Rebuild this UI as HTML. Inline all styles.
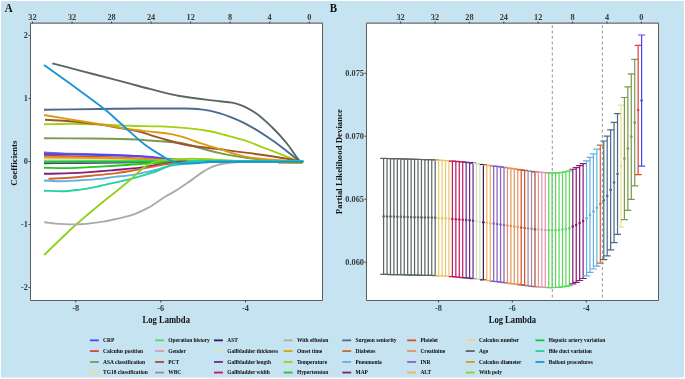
<!DOCTYPE html><html><head><meta charset="utf-8"><title>LASSO</title><style>
html,body{margin:0;padding:0;background:#fff;}
svg{display:block;will-change:transform;font-family:"Liberation Serif", serif;}
</style></head><body>
<svg width="685" height="379" viewBox="0 0 685 379">
<rect x="0" y="0" width="685" height="379" fill="#ffffff"/>
<rect x="1" y="1" width="683" height="376.5" fill="#c6e3f1"/>
<rect x="30.5" y="23.5" width="292.0" height="277.0" fill="#fff"/>
<path d="M44,163.2 C56,163.13 68,163.09 80,163 C93.33,162.91 106.67,162.77 120,162.6 C133.33,162.43 146.67,162.15 160,161.9 C170,161.71 180,161.3 190,161.3 C227.67,161.3 265.33,161.3 303,161.3" fill="none" stroke="#6b2c8c" stroke-width="1.9" stroke-linecap="butt" stroke-linejoin="round"/>
<path d="M44,158.4 C56,158.47 68,158.51 80,158.6 C93.33,158.69 106.67,158.79 120,159 C133.33,159.21 146.67,159.97 160,160.4 C170,160.72 180,161.3 190,161.3 C227.67,161.3 265.33,161.3 303,161.3" fill="none" stroke="#f2b264" stroke-width="1.9" stroke-linecap="butt" stroke-linejoin="round"/>
<path d="M44,159.3 C56,159.4 68,159.47 80,159.6 C93.33,159.75 106.67,160.07 120,160.3 C133.33,160.53 146.67,160.83 160,161 C170,161.13 180,161.3 190,161.3 C227.67,161.3 265.33,161.3 303,161.3" fill="none" stroke="#dfe6b4" stroke-width="1.9" stroke-linecap="butt" stroke-linejoin="round"/>
<path d="M44,155.8 C56,156 68,156.14 80,156.4 C93.33,156.68 106.67,157.1 120,157.6 C133.33,158.1 146.67,158.89 160,159.6 C170,160.13 180,161.3 190,161.3 C227.67,161.3 265.33,161.3 303,161.3" fill="none" stroke="#e0413a" stroke-width="1.9" stroke-linecap="butt" stroke-linejoin="round"/>
<path d="M44,152.4 C52.67,152.8 61.33,153.31 70,153.6 C80,153.94 90,154.06 100,154.4 C110,154.74 120,155.2 130,155.8 C139.33,156.36 148.67,157.26 158,158.1 C167,158.91 176,160.37 185,160.8 C190,161.04 195,161.3 200,161.3 C234.33,161.3 268.67,161.3 303,161.3" fill="none" stroke="#8262c2" stroke-width="1.9" stroke-linecap="butt" stroke-linejoin="round"/>
<path d="M44,154 C52.67,154.13 61.33,154.25 70,154.4 C80,154.57 90,154.77 100,155 C113.33,155.31 126.67,155.51 140,156.1 C150,156.54 160,158.06 170,159 C178.33,159.79 186.67,161.3 195,161.3 C231,161.3 267,161.3 303,161.3" fill="none" stroke="#4848f6" stroke-width="1.9" stroke-linecap="butt" stroke-linejoin="round"/>
<path d="M44,157.1 C56,157.27 68,157.41 80,157.6 C93.33,157.81 106.67,157.98 120,158.3 C133.33,158.62 146.67,159.22 160,159.8 C170,160.23 180,161.3 190,161.3 C227.67,161.3 265.33,161.3 303,161.3" fill="none" stroke="#e0a00e" stroke-width="1.9" stroke-linecap="butt" stroke-linejoin="round"/>
<path d="M44,161.2 C56,161.2 68,161.2 80,161.2 C93.33,161.2 106.67,161.2 120,161.2 C133.33,161.2 146.67,161.3 160,161.3 C170,161.3 180,161.3 190,161.3 C227.67,161.3 265.33,161.3 303,161.3" fill="none" stroke="#5cd65c" stroke-width="1.9" stroke-linecap="butt" stroke-linejoin="round"/>
<path d="M44,162.1 C56,162 68,161.88 80,161.8 C93.33,161.72 106.67,161.67 120,161.6 C133.33,161.53 146.67,161.45 160,161.4 C170,161.36 180,161.3 190,161.3 C227.67,161.3 265.33,161.3 303,161.3" fill="none" stroke="#14c83e" stroke-width="1.9" stroke-linecap="butt" stroke-linejoin="round"/>
<path d="M44,167.7 C51,167.83 58,168.1 65,168.1 C76.67,168.1 88.33,167.16 100,166.6 C105,166.36 110,166.1 115,165.8 C127,165.08 139,163.88 151,163.2 C162.33,162.56 173.67,161.9 185,161.6 C190,161.47 195,161.3 200,161.3 C234.33,161.3 268.67,161.3 303,161.3" fill="none" stroke="#22c81e" stroke-width="1.9" stroke-linecap="butt" stroke-linejoin="round"/>
<path d="M44,173.8 C51,173.67 58,173.59 65,173.4 C76.67,173.08 88.33,172.15 100,171.3 C105,170.94 110,170.45 115,170 C123.33,169.24 131.67,168.61 140,167.6 C146.13,166.86 152.27,165.5 158.4,164.7 C167.27,163.54 176.13,162.23 185,161.8 C190,161.56 195,161.3 200,161.3 C234.33,161.3 268.67,161.3 303,161.3" fill="none" stroke="#8a1a78" stroke-width="1.9" stroke-linecap="butt" stroke-linejoin="round"/>
<path d="M48.5,178.8 C54,178.53 59.5,178.33 65,178 C76.67,177.29 88.33,176 100,174.9 C105,174.43 110,174.02 115,173.4 C124.6,172.22 134.2,170.11 143.8,168.4 C152.53,166.84 161.27,164.57 170,163.6 C178.33,162.67 186.67,161.81 195,161.6 C201.67,161.44 208.33,161.3 215,161.3 C244.33,161.3 273.67,161.3 303,161.3" fill="none" stroke="#d2682e" stroke-width="1.9" stroke-linecap="butt" stroke-linejoin="round"/>
<path d="M44,180.5 C49.33,180.77 54.67,181.3 60,181.3 C66.67,181.3 73.33,180.69 80,180.3 C86.67,179.91 93.33,179.52 100,178.9 C105,178.43 110,177.49 115,176.9 C119.67,176.35 124.33,176.03 129,175.4 C136,174.45 143,172.85 150,171.3 C157.67,169.6 165.33,166.8 173,165.4 C178,164.48 183,163.7 188,163.2 C195.33,162.47 202.67,161.78 210,161.6 C216.67,161.44 223.33,161.3 230,161.3 C254.33,161.3 278.67,161.3 303,161.3" fill="none" stroke="#62b0e2" stroke-width="1.9" stroke-linecap="butt" stroke-linejoin="round"/>
<path d="M44,190.7 C50,190.87 56,191.2 62,191.2 C68,191.2 74,190.31 80,189.6 C86.67,188.81 93.33,187.35 100,186 C105,184.99 110,183.76 115,182.6 C119.67,181.52 124.33,180.49 129,179.3 C134.33,177.93 139.67,176.4 145,174.8 C149.47,173.46 153.93,172.11 158.4,170.5 C163.27,168.75 168.13,165.45 173,164.5 C180.33,163.06 187.67,162.1 195,161.8 C201.67,161.53 208.33,161.3 215,161.3 C244.33,161.3 273.67,161.3 303,161.3" fill="none" stroke="#22d2a2" stroke-width="1.9" stroke-linecap="butt" stroke-linejoin="round"/>
<path d="M44.2,255 C54.77,244.93 65.33,234.25 75.9,224.8 C85.7,216.04 95.5,207.95 105.3,200 C109.53,196.57 113.77,193.41 118,190 C121.73,187 125.47,183.92 129.2,180.8 C135.53,175.51 141.87,167.57 148.2,164.6 C152.13,162.75 156.07,161.19 160,160.6 C165,159.85 170,159.43 175,159.2 C180.67,158.94 186.33,158.7 192,158.7 C199.67,158.7 207.33,159.26 215,159.6 C223.33,159.97 231.67,160.66 240,160.9 C246.67,161.09 253.33,161.3 260,161.3 C274.33,161.3 288.67,161.3 303,161.3" fill="none" stroke="#92d21e" stroke-width="1.9" stroke-linecap="butt" stroke-linejoin="round"/>
<path d="M44.2,222.3 C49.47,222.83 54.73,223.65 60,223.9 C65.33,224.16 70.67,224.4 76,224.4 C85.1,224.4 94.2,222.88 103.3,221.6 C108.2,220.91 113.1,219.69 118,218.6 C122,217.71 126,216.92 130,215.7 C135.83,213.93 141.67,211.22 147.5,208.2 C153.33,205.18 159.17,200.33 165,196.8 C169.1,194.32 173.2,192.36 177.3,189.8 C181.97,186.89 186.63,183.37 191.3,180.1 C195.4,177.23 199.5,173.82 203.6,171.4 C207.07,169.36 210.53,167.25 214,166.1 C217.53,164.93 221.07,164.01 224.6,163.5 C229.73,162.76 234.87,162.27 240,162 C246.67,161.65 253.33,161.3 260,161.3 C274.33,161.3 288.67,161.3 303,161.3" fill="none" stroke="#ababab" stroke-width="1.9" stroke-linecap="butt" stroke-linejoin="round"/>
<path d="M44,138.3 C59.17,138.37 74.33,138.39 89.5,138.5 C103,138.6 116.5,138.87 130,139.3 C136.67,139.51 143.33,140.05 150,140.5 C159.83,141.16 169.67,141.58 179.5,142.8 C184.67,143.44 189.83,145.14 195,146.5 C199,147.55 203,148.94 207,150 C212,151.32 217,152.58 222,153.6 C229.67,155.16 237.33,156.53 245,157.6 C253.33,158.76 261.67,160.01 270,160.5 C276.67,160.89 283.33,161.3 290,161.3 C294.33,161.3 298.67,161.3 303,161.3" fill="none" stroke="#7a9a4c" stroke-width="1.9" stroke-linecap="butt" stroke-linejoin="round"/>
<path d="M44,124.3 C52.67,124.13 61.33,123.8 70,123.8 C80,123.8 90,124.12 100,124.4 C110,124.68 120,125.52 130,125.8 C140,126.08 150,126.09 160,126.4 C169.8,126.7 179.6,127.49 189.4,128.4 C196.27,129.04 203.13,129.97 210,131.2 C215,132.1 220,133.68 225,135 C231.27,136.65 237.53,138.21 243.8,140.2 C251.7,142.71 259.6,146.17 267.5,149.2 C275.43,152.24 283.37,155.38 291.3,158.4 C293.87,159.38 296.43,161.3 299,161.3 C300.33,161.3 301.67,161.3 303,161.3" fill="none" stroke="#a2d10e" stroke-width="1.9" stroke-linecap="butt" stroke-linejoin="round"/>
<path d="M45,119.8 C53.33,120.27 61.67,120.58 70,121.2 C80,121.94 90,123.22 100,124.6 C106.67,125.52 113.33,126.79 120,128 C126.63,129.21 133.27,130.32 139.9,131.9 C146.5,133.47 153.1,136.06 159.7,137.9 C169.6,140.66 179.5,143.84 189.4,145.5 C199.6,147.21 209.8,148 220,149.3 C233.13,150.98 246.27,152.61 259.4,154.5 C270.37,156.08 281.33,157.52 292.3,159.7 C294.53,160.14 296.77,161.3 299,161.3 C300.33,161.3 301.67,161.3 303,161.3" fill="none" stroke="#a0522d" stroke-width="1.9" stroke-linecap="butt" stroke-linejoin="round"/>
<path d="M44,115 C52.67,116.47 61.33,117.97 70,119.4 C80,121.05 90,122.55 100,124.2 C110,125.85 120,127.95 130,129.3 C136.67,130.2 143.33,130.83 150,131.6 C156.53,132.36 163.07,132.86 169.6,133.9 C174.73,134.72 179.87,136.11 185,137.6 C189.77,138.98 194.53,141.21 199.3,142.8 C207.2,145.43 215.1,147.53 223,150 C227.67,151.46 232.33,153.28 237,154.5 C241.67,155.72 246.33,156.95 251,157.6 C259,158.71 267,159.32 275,159.9 C283,160.48 291,161.3 299,161.3 C300.33,161.3 301.67,161.3 303,161.3" fill="none" stroke="#d89c12" stroke-width="1.9" stroke-linecap="butt" stroke-linejoin="round"/>
<path d="M44,109.7 C62.67,109.47 81.33,109.23 100,109 C113.33,108.83 126.67,108.5 140,108.5 C155,108.5 170,108.5 185,108.5 C191,108.5 197,109.02 203,109.6 C208.67,110.15 214.33,111.84 220,113.4 C223.33,114.32 226.67,115.54 230,116.8 C234.6,118.54 239.2,120.51 243.8,122.8 C251.7,126.73 259.6,131.82 267.5,137 C273.03,140.63 278.57,144.66 284.1,148.9 C288.47,152.24 292.83,156.25 297.2,159.6 C297.97,160.19 298.73,161.3 299.5,161.3 C300.67,161.3 301.83,161.3 303,161.3" fill="none" stroke="#4a6a8a" stroke-width="1.9" stroke-linecap="butt" stroke-linejoin="round"/>
<path d="M52.3,63.3 C61.53,65.73 70.77,68.18 80,70.6 C90,73.22 100,75.77 110,78.4 C116.67,80.15 123.33,81.94 130,83.7 C136.6,85.44 143.2,87.24 149.8,88.9 C159.7,91.39 169.6,94.27 179.5,96 C189.4,97.73 199.3,98.9 209.2,100.1 C212.8,100.54 216.4,100.9 220,101.3 C224,101.74 228,101.95 232,102.6 C235.33,103.14 238.67,104.33 242,105.6 C246.53,107.33 251.07,109.99 255.6,113 C261.17,116.7 266.73,122.1 272.3,127.5 C277.03,132.09 281.77,137.21 286.5,143 C290.47,147.85 294.43,154.43 298.4,159.4 C298.93,160.07 299.47,161.3 300,161.3 C301,161.3 302,161.3 303,161.3" fill="none" stroke="#5a6661" stroke-width="1.9" stroke-linecap="butt" stroke-linejoin="round"/>
<path d="M44,64.9 C52.67,71.13 61.33,77.3 70,83.6 C76.67,88.45 83.33,93.34 90,98.3 C95,102.02 100,105.54 105,109.6 C109.33,113.12 113.67,117.13 118,121 C122,124.57 126,128.37 130,131.9 C135.1,136.4 140.2,141.23 145.3,145 C150.63,148.95 155.97,152.3 161.3,155.4 C165.2,157.67 169.1,160.38 173,161.6 C175.93,162.52 178.87,163.6 181.8,163.6 C186.3,163.6 190.8,163.46 195.3,163.3 C200.2,163.13 205.1,162.2 210,162 C216.67,161.73 223.33,161.57 230,161.5 C240,161.39 250,161.3 260,161.3 C274.5,161.3 289,161.3 303.5,161.3" fill="none" stroke="#1995d4" stroke-width="1.9" stroke-linecap="butt" stroke-linejoin="round"/>
<path d="M278,163.1 L302.5,163.3" stroke="#d89c12" stroke-width="1.2" fill="none"/>
<path d="M186,160.6 L303,160.6" stroke="#22d2a2" stroke-width="1.4" fill="none"/>
<path d="M205,161.8 L303.6,161.8" stroke="#1995d4" stroke-width="2.1" fill="none"/>
<path d="M30.5,23.2 V300.5 H322.5 V23.2" stroke="#5c5c5c" stroke-width="1" fill="none"/>
<path d="M30,23.2 H323" stroke="#6c6c6c" stroke-width="1.3" fill="none"/>
<text transform="translate(75.7,310.5) scale(1,1.09)" font-size="8.3" font-weight="bold" fill="#383838" text-anchor="middle">-8</text>
<text transform="translate(160.8,310.5) scale(1,1.09)" font-size="8.3" font-weight="bold" fill="#383838" text-anchor="middle">-6</text>
<text transform="translate(245.5,310.5) scale(1,1.09)" font-size="8.3" font-weight="bold" fill="#383838" text-anchor="middle">-4</text>
<text transform="translate(27.9,38.4) scale(1,1.09)" font-size="8.3" font-weight="bold" fill="#383838" text-anchor="end">2</text>
<text transform="translate(27.9,101.45) scale(1,1.09)" font-size="8.3" font-weight="bold" fill="#383838" text-anchor="end">1</text>
<text transform="translate(27.9,164.45) scale(1,1.09)" font-size="8.3" font-weight="bold" fill="#383838" text-anchor="end">0</text>
<text transform="translate(27.9,227.45) scale(1,1.09)" font-size="8.3" font-weight="bold" fill="#383838" text-anchor="end">-1</text>
<text transform="translate(27.9,290.45) scale(1,1.09)" font-size="8.3" font-weight="bold" fill="#383838" text-anchor="end">-2</text>
<text transform="translate(32.5,19.9) scale(1,1.09)" font-size="8.3" font-weight="bold" fill="#383838" text-anchor="middle">32</text>
<text transform="translate(72.03,19.9) scale(1,1.09)" font-size="8.3" font-weight="bold" fill="#383838" text-anchor="middle">32</text>
<text transform="translate(111.56,19.9) scale(1,1.09)" font-size="8.3" font-weight="bold" fill="#383838" text-anchor="middle">28</text>
<text transform="translate(151.09,19.9) scale(1,1.09)" font-size="8.3" font-weight="bold" fill="#383838" text-anchor="middle">24</text>
<text transform="translate(190.62,19.9) scale(1,1.09)" font-size="8.3" font-weight="bold" fill="#383838" text-anchor="middle">12</text>
<text transform="translate(230.15,19.9) scale(1,1.09)" font-size="8.3" font-weight="bold" fill="#383838" text-anchor="middle">8</text>
<text transform="translate(269.68,19.9) scale(1,1.09)" font-size="8.3" font-weight="bold" fill="#383838" text-anchor="middle">4</text>
<text transform="translate(309.21,19.9) scale(1,1.09)" font-size="8.3" font-weight="bold" fill="#383838" text-anchor="middle">0</text>
<path d="M75.7,300.5 V302.5 M160.8,300.5 V302.5 M245.5,300.5 V302.5 M30.5,35.4 H28.5 M30.5,98.45 H28.5 M30.5,161.45 H28.5 M30.5,224.45 H28.5 M30.5,287.45 H28.5 M32.5,23.5 V21.5 M72.03,23.5 V21.5 M111.56,23.5 V21.5 M151.09,23.5 V21.5 M190.62,23.5 V21.5 M230.15,23.5 V21.5 M269.68,23.5 V21.5 M309.21,23.5 V21.5" stroke="#4a4a4a" stroke-width="1.05" fill="none"/>
<text transform="translate(166.2,322.5) scale(1,1.09)" font-size="8.6" font-weight="bold" fill="#111" text-anchor="middle">Log Lambda</text>
<text transform="translate(16.5,163.05) rotate(-90)" font-size="8.95" font-weight="bold" fill="#111" text-anchor="middle">Coefficients</text>
<text transform="translate(8.6,11.6) scale(1,1.09)" font-size="11" font-weight="bold" fill="#111" text-anchor="middle">A</text>
<rect x="366.5" y="23.5" width="292.0" height="277.0" fill="#fff"/>
<line x1="552.3" y1="23.5" x2="552.3" y2="300.5" stroke="#8c8c8c" stroke-width="0.9" stroke-dasharray="3 2.5" stroke-dashoffset="-1.5"/>
<line x1="602.4" y1="23.5" x2="602.4" y2="300.5" stroke="#8c8c8c" stroke-width="0.9" stroke-dasharray="3 2.5" stroke-dashoffset="-1.5"/>
<path d="M383.6,158.4 V274.4 M380.1,158.4 H387.1 M380.1,274.4 H387.1" stroke="#5a6661" stroke-width="1.22" fill="none"/>
<circle cx="383.6" cy="216.4" r="1.3" fill="#5a6661"/>
<path d="M387.04,158.49 V274.47 M383.54,158.49 H390.54 M383.54,274.47 H390.54" stroke="#5a6661" stroke-width="1.22" fill="none"/>
<circle cx="387.04" cy="216.48" r="1.3" fill="#5a6661"/>
<path d="M390.48,158.58 V274.54 M386.98,158.58 H393.98 M386.98,274.54 H393.98" stroke="#5a6661" stroke-width="1.22" fill="none"/>
<circle cx="390.48" cy="216.56" r="1.3" fill="#5a6661"/>
<path d="M393.92,158.67 V274.61 M390.42,158.67 H397.42 M390.42,274.61 H397.42" stroke="#5a6661" stroke-width="1.22" fill="none"/>
<circle cx="393.92" cy="216.64" r="1.3" fill="#5a6661"/>
<path d="M397.36,158.76 V274.68 M393.86,158.76 H400.86 M393.86,274.68 H400.86" stroke="#5a6661" stroke-width="1.22" fill="none"/>
<circle cx="397.36" cy="216.72" r="1.3" fill="#5a6661"/>
<path d="M400.8,158.85 V274.75 M397.3,158.85 H404.3 M397.3,274.75 H404.3" stroke="#5a6661" stroke-width="1.22" fill="none"/>
<circle cx="400.8" cy="216.8" r="1.3" fill="#5a6661"/>
<path d="M404.24,158.96 V274.84 M400.74,158.96 H407.74 M400.74,274.84 H407.74" stroke="#5a6661" stroke-width="1.22" fill="none"/>
<circle cx="404.24" cy="216.9" r="1.3" fill="#5a6661"/>
<path d="M407.68,159.07 V274.93 M404.18,159.07 H411.18 M404.18,274.93 H411.18" stroke="#5a6661" stroke-width="1.22" fill="none"/>
<circle cx="407.68" cy="217" r="1.3" fill="#5a6661"/>
<path d="M411.12,159.18 V275.02 M407.62,159.18 H414.62 M407.62,275.02 H414.62" stroke="#5a6661" stroke-width="1.22" fill="none"/>
<circle cx="411.12" cy="217.1" r="1.3" fill="#5a6661"/>
<path d="M414.56,159.29 V275.11 M411.06,159.29 H418.06 M411.06,275.11 H418.06" stroke="#5a6661" stroke-width="1.22" fill="none"/>
<circle cx="414.56" cy="217.2" r="1.3" fill="#5a6661"/>
<path d="M418,159.4 V275.2 M414.5,159.4 H421.5 M414.5,275.2 H421.5" stroke="#5a6661" stroke-width="1.22" fill="none"/>
<circle cx="418" cy="217.3" r="1.3" fill="#5a6661"/>
<path d="M421.44,159.49 V275.27 M417.94,159.49 H424.94 M417.94,275.27 H424.94" stroke="#5a6661" stroke-width="1.22" fill="none"/>
<circle cx="421.44" cy="217.38" r="1.3" fill="#5a6661"/>
<path d="M424.88,159.58 V275.34 M421.38,159.58 H428.38 M421.38,275.34 H428.38" stroke="#5a6661" stroke-width="1.22" fill="none"/>
<circle cx="424.88" cy="217.46" r="1.3" fill="#5a6661"/>
<path d="M428.32,159.67 V275.41 M424.82,159.67 H431.82 M424.82,275.41 H431.82" stroke="#5a6661" stroke-width="1.22" fill="none"/>
<circle cx="428.32" cy="217.54" r="1.3" fill="#5a6661"/>
<path d="M431.76,159.76 V275.48 M428.26,159.76 H435.26 M428.26,275.48 H435.26" stroke="#5a6661" stroke-width="1.22" fill="none"/>
<circle cx="431.76" cy="217.62" r="1.3" fill="#5a6661"/>
<path d="M435.2,159.85 V275.55 M431.7,159.85 H438.7 M431.7,275.55 H438.7" stroke="#5a6661" stroke-width="1.22" fill="none"/>
<circle cx="435.2" cy="217.7" r="1.3" fill="#5a6661"/>
<path d="M438.64,160.09 V275.77 M435.14,160.09 H442.14 M435.14,275.77 H442.14" stroke="#eac76f" stroke-width="1.22" fill="none"/>
<circle cx="438.64" cy="217.93" r="1.3" fill="#eac76f"/>
<path d="M442.08,160.34 V276 M438.58,160.34 H445.58 M438.58,276 H445.58" stroke="#eac76f" stroke-width="1.22" fill="none"/>
<circle cx="442.08" cy="218.17" r="1.3" fill="#eac76f"/>
<path d="M445.52,160.58 V276.22 M442.02,160.58 H449.02 M442.02,276.22 H449.02" stroke="#eac76f" stroke-width="1.22" fill="none"/>
<circle cx="445.52" cy="218.4" r="1.3" fill="#eac76f"/>
<path d="M448.96,160.86 V276.48 M445.46,160.86 H452.46 M445.46,276.48 H452.46" stroke="#eac76f" stroke-width="1.22" fill="none"/>
<circle cx="448.96" cy="218.67" r="1.3" fill="#eac76f"/>
<path d="M452.4,161.13 V276.73 M448.9,161.13 H455.9 M448.9,276.73 H455.9" stroke="#c2185e" stroke-width="1.22" fill="none"/>
<circle cx="452.4" cy="218.93" r="1.3" fill="#c2185e"/>
<path d="M455.84,161.41 V276.99 M452.34,161.41 H459.34 M452.34,276.99 H459.34" stroke="#c2185e" stroke-width="1.22" fill="none"/>
<circle cx="455.84" cy="219.2" r="1.3" fill="#c2185e"/>
<path d="M459.28,161.69 V277.25 M455.78,161.69 H462.78 M455.78,277.25 H462.78" stroke="#c2185e" stroke-width="1.22" fill="none"/>
<circle cx="459.28" cy="219.47" r="1.3" fill="#c2185e"/>
<path d="M462.72,161.98 V277.52 M459.22,161.98 H466.22 M459.22,277.52 H466.22" stroke="#c2185e" stroke-width="1.22" fill="none"/>
<circle cx="462.72" cy="219.75" r="1.3" fill="#c2185e"/>
<path d="M466.16,162.26 V277.79 M462.66,162.26 H469.66 M462.66,277.79 H469.66" stroke="#6b2c8c" stroke-width="1.22" fill="none"/>
<circle cx="466.16" cy="220.03" r="1.3" fill="#6b2c8c"/>
<path d="M469.6,162.55 V278.05 M466.1,162.55 H473.1 M466.1,278.05 H473.1" stroke="#6b2c8c" stroke-width="1.22" fill="none"/>
<circle cx="469.6" cy="220.3" r="1.3" fill="#6b2c8c"/>
<path d="M473.04,163.04 V278.52 M469.54,163.04 H476.54 M469.54,278.52 H476.54" stroke="#6b2c8c" stroke-width="1.22" fill="none"/>
<circle cx="473.04" cy="220.78" r="1.3" fill="#6b2c8c"/>
<path d="M476.48,163.53 V278.99 M472.98,163.53 H479.98 M472.98,278.99 H479.98" stroke="#cde0b6" stroke-width="1.22" fill="none"/>
<circle cx="476.48" cy="221.26" r="1.3" fill="#cde0b6"/>
<path d="M479.92,164.01 V279.45 M476.42,164.01 H483.42 M476.42,279.45 H483.42" stroke="#cde0b6" stroke-width="1.22" fill="none"/>
<circle cx="479.92" cy="221.73" r="1.3" fill="#cde0b6"/>
<path d="M483.36,164.49 V279.91 M479.86,164.49 H486.86 M479.86,279.91 H486.86" stroke="#3b1a5a" stroke-width="1.22" fill="none"/>
<circle cx="483.36" cy="222.2" r="1.3" fill="#3b1a5a"/>
<path d="M486.8,165.03 V280.43 M483.3,165.03 H490.3 M483.3,280.43 H490.3" stroke="#f2b264" stroke-width="1.22" fill="none"/>
<circle cx="486.8" cy="222.73" r="1.3" fill="#f2b264"/>
<path d="M490.24,165.54 V280.9 M486.74,165.54 H493.74 M486.74,280.9 H493.74" stroke="#f2b264" stroke-width="1.22" fill="none"/>
<circle cx="490.24" cy="223.22" r="1.3" fill="#f2b264"/>
<path d="M493.68,165.99 V281.31 M490.18,165.99 H497.18 M490.18,281.31 H497.18" stroke="#8262c2" stroke-width="1.22" fill="none"/>
<circle cx="493.68" cy="223.65" r="1.3" fill="#8262c2"/>
<path d="M497.12,166.44 V281.72 M493.62,166.44 H500.62 M493.62,281.72 H500.62" stroke="#8262c2" stroke-width="1.22" fill="none"/>
<circle cx="497.12" cy="224.08" r="1.3" fill="#8262c2"/>
<path d="M500.56,166.92 V282.16 M497.06,166.92 H504.06 M497.06,282.16 H504.06" stroke="#8262c2" stroke-width="1.22" fill="none"/>
<circle cx="500.56" cy="224.54" r="1.3" fill="#8262c2"/>
<path d="M504,167.41 V282.61 M500.5,167.41 H507.5 M500.5,282.61 H507.5" stroke="#8262c2" stroke-width="1.22" fill="none"/>
<circle cx="504" cy="225.01" r="1.3" fill="#8262c2"/>
<path d="M507.44,167.91 V283.07 M503.94,167.91 H510.94 M503.94,283.07 H510.94" stroke="#e49262" stroke-width="1.22" fill="none"/>
<circle cx="507.44" cy="225.49" r="1.3" fill="#e49262"/>
<path d="M510.88,168.4 V283.52 M507.38,168.4 H514.38 M507.38,283.52 H514.38" stroke="#e49262" stroke-width="1.22" fill="none"/>
<circle cx="510.88" cy="225.96" r="1.3" fill="#e49262"/>
<path d="M514.32,168.91 V283.99 M510.82,168.91 H517.82 M510.82,283.99 H517.82" stroke="#e49262" stroke-width="1.22" fill="none"/>
<circle cx="514.32" cy="226.45" r="1.3" fill="#e49262"/>
<path d="M517.76,169.43 V284.47 M514.26,169.43 H521.26 M514.26,284.47 H521.26" stroke="#e49262" stroke-width="1.22" fill="none"/>
<circle cx="517.76" cy="226.95" r="1.3" fill="#e49262"/>
<path d="M521.2,169.95 V284.95 M517.7,169.95 H524.7 M517.7,284.95 H524.7" stroke="#d4522a" stroke-width="1.22" fill="none"/>
<circle cx="521.2" cy="227.45" r="1.3" fill="#d4522a"/>
<path d="M524.64,170.47 V285.43 M521.14,170.47 H528.14 M521.14,285.43 H528.14" stroke="#d4522a" stroke-width="1.22" fill="none"/>
<circle cx="524.64" cy="227.95" r="1.3" fill="#d4522a"/>
<path d="M528.08,170.99 V285.91 M524.58,170.99 H531.58 M524.58,285.91 H531.58" stroke="#9a8aa6" stroke-width="1.22" fill="none"/>
<circle cx="528.08" cy="228.45" r="1.3" fill="#9a8aa6"/>
<path d="M531.52,171.43 V286.31 M528.02,171.43 H535.02 M528.02,286.31 H535.02" stroke="#9a8aa6" stroke-width="1.22" fill="none"/>
<circle cx="531.52" cy="228.87" r="1.3" fill="#9a8aa6"/>
<path d="M534.96,171.78 V286.62 M531.46,171.78 H538.46 M531.46,286.62 H538.46" stroke="#a0522d" stroke-width="1.22" fill="none"/>
<circle cx="534.96" cy="229.2" r="1.3" fill="#a0522d"/>
<path d="M538.4,172.05 V286.85 M534.9,172.05 H541.9 M534.9,286.85 H541.9" stroke="#e494ac" stroke-width="1.22" fill="none"/>
<circle cx="538.4" cy="229.45" r="1.3" fill="#e494ac"/>
<path d="M541.84,172.32 V287.08 M538.34,172.32 H545.34 M538.34,287.08 H545.34" stroke="#e494ac" stroke-width="1.22" fill="none"/>
<circle cx="541.84" cy="229.7" r="1.3" fill="#e494ac"/>
<path d="M545.28,172.59 V287.31 M541.78,172.59 H548.78 M541.78,287.31 H548.78" stroke="#e494ac" stroke-width="1.22" fill="none"/>
<circle cx="545.28" cy="229.95" r="1.3" fill="#e494ac"/>
<path d="M548.72,172.86 V287.54 M545.22,172.86 H552.22 M545.22,287.54 H552.22" stroke="#5cd65c" stroke-width="1.22" fill="none"/>
<circle cx="548.72" cy="230.2" r="1.3" fill="#5cd65c"/>
<path d="M552.16,172.98 V287.62 M548.66,172.98 H555.66 M548.66,287.62 H555.66" stroke="#5cd65c" stroke-width="1.22" fill="none"/>
<circle cx="552.16" cy="230.3" r="1.3" fill="#5cd65c"/>
<path d="M555.6,172.9 V287.5 M552.1,172.9 H559.1 M552.1,287.5 H559.1" stroke="#5cd65c" stroke-width="1.22" fill="none"/>
<circle cx="555.6" cy="230.2" r="1.3" fill="#5cd65c"/>
<path d="M559.04,172.69 V287.31 M555.54,172.69 H562.54 M555.54,287.31 H562.54" stroke="#5cd65c" stroke-width="1.22" fill="none"/>
<circle cx="559.04" cy="230" r="1.3" fill="#5cd65c"/>
<path d="M562.48,172.28 V286.93 M558.98,172.28 H565.98 M558.98,286.93 H565.98" stroke="#5cd65c" stroke-width="1.22" fill="none"/>
<circle cx="562.48" cy="229.6" r="1.3" fill="#5cd65c"/>
<path d="M565.92,171.76 V286.44 M562.42,171.76 H569.42 M562.42,286.44 H569.42" stroke="#5cd65c" stroke-width="1.22" fill="none"/>
<circle cx="565.92" cy="229.1" r="1.3" fill="#5cd65c"/>
<path d="M569.36,170.85 V285.55 M565.86,170.85 H572.86 M565.86,285.55 H572.86" stroke="#5cd65c" stroke-width="1.22" fill="none"/>
<circle cx="569.36" cy="228.2" r="1.3" fill="#5cd65c"/>
<path d="M572.8,169.24 V283.96 M569.3,169.24 H576.3 M569.3,283.96 H576.3" stroke="#8a1a78" stroke-width="1.22" fill="none"/>
<circle cx="572.8" cy="226.6" r="1.3" fill="#8a1a78"/>
<path d="M576.24,167.62 V282.38 M572.74,167.62 H579.74 M572.74,282.38 H579.74" stroke="#8a1a78" stroke-width="1.22" fill="none"/>
<circle cx="576.24" cy="225" r="1.3" fill="#8a1a78"/>
<path d="M579.68,165.71 V280.49 M576.18,165.71 H583.18 M576.18,280.49 H583.18" stroke="#8a1a78" stroke-width="1.22" fill="none"/>
<circle cx="579.68" cy="223.1" r="1.3" fill="#8a1a78"/>
<path d="M583.12,163.7 V278.5 M579.62,163.7 H586.62 M579.62,278.5 H586.62" stroke="#8a1a78" stroke-width="1.22" fill="none"/>
<circle cx="583.12" cy="221.1" r="1.3" fill="#8a1a78"/>
<path d="M586.56,160.83 V275.77 M583.06,160.83 H590.06 M583.06,275.77 H590.06" stroke="#62b0e2" stroke-width="1.22" fill="none"/>
<circle cx="586.56" cy="218.3" r="1.3" fill="#62b0e2"/>
<path d="M590,157.37 V272.43 M586.5,157.37 H593.5 M586.5,272.43 H593.5" stroke="#62b0e2" stroke-width="1.22" fill="none"/>
<circle cx="590" cy="214.9" r="1.3" fill="#62b0e2"/>
<path d="M593.44,153.8 V269 M589.94,153.8 H596.94 M589.94,269 H596.94" stroke="#62b0e2" stroke-width="1.22" fill="none"/>
<circle cx="593.44" cy="211.4" r="1.3" fill="#62b0e2"/>
<path d="M596.88,149.2 V266.2 M593.38,149.2 H600.38 M593.38,266.2 H600.38" stroke="#62b0e2" stroke-width="1.22" fill="none"/>
<circle cx="596.88" cy="207.7" r="1.3" fill="#62b0e2"/>
<path d="M600.32,145.1 V263.1 M596.82,145.1 H603.82 M596.82,263.1 H603.82" stroke="#d2682e" stroke-width="1.22" fill="none"/>
<circle cx="600.32" cy="204.1" r="1.3" fill="#d2682e"/>
<path d="M603.76,141 V259.6 M600.26,141 H607.26 M600.26,259.6 H607.26" stroke="#4a6a8a" stroke-width="1.22" fill="none"/>
<circle cx="603.76" cy="200.3" r="1.3" fill="#4a6a8a"/>
<path d="M607.2,136.2 V255.8 M603.7,136.2 H610.7 M603.7,255.8 H610.7" stroke="#4a6a8a" stroke-width="1.22" fill="none"/>
<circle cx="607.2" cy="196" r="1.3" fill="#4a6a8a"/>
<path d="M610.64,129.9 V249.9 M607.14,129.9 H614.14 M607.14,249.9 H614.14" stroke="#4a6a8a" stroke-width="1.22" fill="none"/>
<circle cx="610.64" cy="189.9" r="1.3" fill="#4a6a8a"/>
<path d="M614.08,122.3 V242.7 M610.58,122.3 H617.58 M610.58,242.7 H617.58" stroke="#4a6a8a" stroke-width="1.22" fill="none"/>
<circle cx="614.08" cy="182.5" r="1.3" fill="#4a6a8a"/>
<path d="M617.52,113.6 V234.4 M614.02,113.6 H621.02 M614.02,234.4 H621.02" stroke="#4a6a8a" stroke-width="1.22" fill="none"/>
<circle cx="617.52" cy="174" r="1.3" fill="#4a6a8a"/>
<path d="M620.96,105.2 V227 M617.46,105.2 H624.46 M617.46,227 H624.46" stroke="#f0e07e" stroke-width="1.22" fill="none"/>
<circle cx="620.96" cy="166.1" r="1.3" fill="#f0e07e"/>
<path d="M624.4,97.5 V219.7 M620.9,97.5 H627.9 M620.9,219.7 H627.9" stroke="#7a9a4c" stroke-width="1.22" fill="none"/>
<circle cx="624.4" cy="158.6" r="1.3" fill="#7a9a4c"/>
<path d="M627.84,86.9 V210.3 M624.34,86.9 H631.34 M624.34,210.3 H631.34" stroke="#7a9a4c" stroke-width="1.22" fill="none"/>
<circle cx="627.84" cy="148.6" r="1.3" fill="#7a9a4c"/>
<path d="M631.28,73.8 V199.4 M627.78,73.8 H634.78 M627.78,199.4 H634.78" stroke="#7a9a4c" stroke-width="1.22" fill="none"/>
<circle cx="631.28" cy="136.6" r="1.3" fill="#7a9a4c"/>
<path d="M634.72,59.4 V185.8 M631.22,59.4 H638.22 M631.22,185.8 H638.22" stroke="#7a9a4c" stroke-width="1.22" fill="none"/>
<circle cx="634.72" cy="122.6" r="1.3" fill="#7a9a4c"/>
<path d="M638.16,45.4 V174.6 M634.66,45.4 H641.66 M634.66,174.6 H641.66" stroke="#e0413a" stroke-width="1.22" fill="none"/>
<circle cx="638.16" cy="110" r="1.3" fill="#e0413a"/>
<path d="M641.6,35 V166.2 M638.1,35 H645.1 M638.1,166.2 H645.1" stroke="#4848f6" stroke-width="1.22" fill="none"/>
<circle cx="641.6" cy="100.6" r="1.3" fill="#4848f6"/>
<path d="M366.5,23.2 V300.5 H658.5 V23.2" stroke="#5c5c5c" stroke-width="1" fill="none"/>
<path d="M366,23.2 H659" stroke="#6c6c6c" stroke-width="1.3" fill="none"/>
<text transform="translate(438.5,310.5) scale(1,1.09)" font-size="8.3" font-weight="bold" fill="#383838" text-anchor="middle">-8</text>
<text transform="translate(512.3,310.5) scale(1,1.09)" font-size="8.3" font-weight="bold" fill="#383838" text-anchor="middle">-6</text>
<text transform="translate(586.3,310.5) scale(1,1.09)" font-size="8.3" font-weight="bold" fill="#383838" text-anchor="middle">-4</text>
<text transform="translate(364,76.3) scale(1,1.09)" font-size="8.3" font-weight="bold" fill="#383838" text-anchor="end">0.075</text>
<text transform="translate(364,139.3) scale(1,1.09)" font-size="8.3" font-weight="bold" fill="#383838" text-anchor="end">0.070</text>
<text transform="translate(364,202.3) scale(1,1.09)" font-size="8.3" font-weight="bold" fill="#383838" text-anchor="end">0.065</text>
<text transform="translate(364,265.25) scale(1,1.09)" font-size="8.3" font-weight="bold" fill="#383838" text-anchor="end">0.060</text>
<text transform="translate(400.6,19.9) scale(1,1.09)" font-size="8.3" font-weight="bold" fill="#383838" text-anchor="middle">32</text>
<text transform="translate(435,19.9) scale(1,1.09)" font-size="8.3" font-weight="bold" fill="#383838" text-anchor="middle">32</text>
<text transform="translate(469.4,19.9) scale(1,1.09)" font-size="8.3" font-weight="bold" fill="#383838" text-anchor="middle">28</text>
<text transform="translate(503.8,19.9) scale(1,1.09)" font-size="8.3" font-weight="bold" fill="#383838" text-anchor="middle">24</text>
<text transform="translate(538.2,19.9) scale(1,1.09)" font-size="8.3" font-weight="bold" fill="#383838" text-anchor="middle">12</text>
<text transform="translate(572.6,19.9) scale(1,1.09)" font-size="8.3" font-weight="bold" fill="#383838" text-anchor="middle">8</text>
<text transform="translate(607,19.9) scale(1,1.09)" font-size="8.3" font-weight="bold" fill="#383838" text-anchor="middle">4</text>
<text transform="translate(641.4,19.9) scale(1,1.09)" font-size="8.3" font-weight="bold" fill="#383838" text-anchor="middle">0</text>
<path d="M438.5,300.5 V302.5 M512.3,300.5 V302.5 M586.3,300.5 V302.5 M366.5,73.3 H364.5 M366.5,136.3 H364.5 M366.5,199.3 H364.5 M366.5,262.25 H364.5 M400.6,23.5 V21.5 M435,23.5 V21.5 M469.4,23.5 V21.5 M503.8,23.5 V21.5 M538.2,23.5 V21.5 M572.6,23.5 V21.5 M607,23.5 V21.5 M641.4,23.5 V21.5" stroke="#4a4a4a" stroke-width="1.05" fill="none"/>
<text transform="translate(512.4,322.5) scale(1,1.09)" font-size="8.6" font-weight="bold" fill="#111" text-anchor="middle">Log Lambda</text>
<text transform="translate(341.5,161.6) rotate(-90)" font-size="8.8" font-weight="bold" fill="#111" text-anchor="middle">Partial Likelihood Deviance</text>
<text transform="translate(333.3,11.6) scale(1,1.09)" font-size="11" font-weight="bold" fill="#111" text-anchor="middle">B</text>
<line x1="89.9" y1="340.35" x2="98.8" y2="340.35" stroke="#4848f6" stroke-width="1.8"/>
<text transform="translate(103.1,342.1) scale(1,1.09)" font-size="5.45" font-weight="bold" fill="#0a0a0a" text-anchor="start">CRP</text>
<line x1="89.9" y1="351.05" x2="98.8" y2="351.05" stroke="#e0413a" stroke-width="1.8"/>
<text transform="translate(103.1,352.8) scale(1,1.09)" font-size="5.45" font-weight="bold" fill="#0a0a0a" text-anchor="start">Calculus position</text>
<line x1="89.9" y1="361.95" x2="98.8" y2="361.95" stroke="#7a9a4c" stroke-width="1.8"/>
<text transform="translate(103.1,363.7) scale(1,1.09)" font-size="5.45" font-weight="bold" fill="#0a0a0a" text-anchor="start">ASA classification</text>
<line x1="89.9" y1="372.55" x2="98.8" y2="372.55" stroke="#f0e07e" stroke-width="1.8"/>
<text transform="translate(103.1,374.3) scale(1,1.09)" font-size="5.45" font-weight="bold" fill="#0a0a0a" text-anchor="start">TG18 classification</text>
<line x1="155.1" y1="340.35" x2="164" y2="340.35" stroke="#5cd65c" stroke-width="1.8"/>
<text transform="translate(168.3,342.1) scale(1,1.09)" font-size="5.45" font-weight="bold" fill="#0a0a0a" text-anchor="start">Operation history</text>
<line x1="155.1" y1="351.05" x2="164" y2="351.05" stroke="#e494ac" stroke-width="1.8"/>
<text transform="translate(168.3,352.8) scale(1,1.09)" font-size="5.45" font-weight="bold" fill="#0a0a0a" text-anchor="start">Gender</text>
<line x1="155.1" y1="361.95" x2="164" y2="361.95" stroke="#a0522d" stroke-width="1.8"/>
<text transform="translate(168.3,363.7) scale(1,1.09)" font-size="5.45" font-weight="bold" fill="#0a0a0a" text-anchor="start">PCT</text>
<line x1="155.1" y1="372.55" x2="164" y2="372.55" stroke="#9a8aa6" stroke-width="1.8"/>
<text transform="translate(168.3,374.3) scale(1,1.09)" font-size="5.45" font-weight="bold" fill="#0a0a0a" text-anchor="start">WBC</text>
<line x1="214" y1="340.35" x2="222.9" y2="340.35" stroke="#3b1a5a" stroke-width="1.8"/>
<text transform="translate(227.2,342.1) scale(1,1.09)" font-size="5.45" font-weight="bold" fill="#0a0a0a" text-anchor="start">AST</text>
<line x1="214" y1="351.05" x2="222.9" y2="351.05" stroke="#dfe6b4" stroke-width="1.8"/>
<text transform="translate(227.2,352.8) scale(1,1.09)" font-size="5.45" font-weight="bold" fill="#0a0a0a" text-anchor="start">Gallbladder thickness</text>
<line x1="214" y1="361.95" x2="222.9" y2="361.95" stroke="#6b2c8c" stroke-width="1.8"/>
<text transform="translate(227.2,363.7) scale(1,1.09)" font-size="5.45" font-weight="bold" fill="#0a0a0a" text-anchor="start">Gallbladder length</text>
<line x1="214" y1="372.55" x2="222.9" y2="372.55" stroke="#c2185e" stroke-width="1.8"/>
<text transform="translate(227.2,374.3) scale(1,1.09)" font-size="5.45" font-weight="bold" fill="#0a0a0a" text-anchor="start">Gallbladder width</text>
<line x1="283.7" y1="340.35" x2="292.6" y2="340.35" stroke="#ababab" stroke-width="1.8"/>
<text transform="translate(296.9,342.1) scale(1,1.09)" font-size="5.45" font-weight="bold" fill="#0a0a0a" text-anchor="start">With effusion</text>
<line x1="283.7" y1="351.05" x2="292.6" y2="351.05" stroke="#e0a00e" stroke-width="1.8"/>
<text transform="translate(296.9,352.8) scale(1,1.09)" font-size="5.45" font-weight="bold" fill="#0a0a0a" text-anchor="start">Onset time</text>
<line x1="283.7" y1="361.95" x2="292.6" y2="361.95" stroke="#a2d10e" stroke-width="1.8"/>
<text transform="translate(296.9,363.7) scale(1,1.09)" font-size="5.45" font-weight="bold" fill="#0a0a0a" text-anchor="start">Temperature</text>
<line x1="283.7" y1="372.55" x2="292.6" y2="372.55" stroke="#22c81e" stroke-width="1.8"/>
<text transform="translate(296.9,374.3) scale(1,1.09)" font-size="5.45" font-weight="bold" fill="#0a0a0a" text-anchor="start">Hypertension</text>
<line x1="342.3" y1="340.35" x2="351.2" y2="340.35" stroke="#4a6a8a" stroke-width="1.8"/>
<text transform="translate(355.5,342.1) scale(1,1.09)" font-size="5.45" font-weight="bold" fill="#0a0a0a" text-anchor="start">Surgeon seniority</text>
<line x1="342.3" y1="351.05" x2="351.2" y2="351.05" stroke="#d2682e" stroke-width="1.8"/>
<text transform="translate(355.5,352.8) scale(1,1.09)" font-size="5.45" font-weight="bold" fill="#0a0a0a" text-anchor="start">Diabetes</text>
<line x1="342.3" y1="361.95" x2="351.2" y2="361.95" stroke="#62b0e2" stroke-width="1.8"/>
<text transform="translate(355.5,363.7) scale(1,1.09)" font-size="5.45" font-weight="bold" fill="#0a0a0a" text-anchor="start">Pneumonia</text>
<line x1="342.3" y1="372.55" x2="351.2" y2="372.55" stroke="#8a1a78" stroke-width="1.8"/>
<text transform="translate(355.5,374.3) scale(1,1.09)" font-size="5.45" font-weight="bold" fill="#0a0a0a" text-anchor="start">MAP</text>
<line x1="407.2" y1="340.35" x2="416.1" y2="340.35" stroke="#d4522a" stroke-width="1.8"/>
<text transform="translate(420.4,342.1) scale(1,1.09)" font-size="5.45" font-weight="bold" fill="#0a0a0a" text-anchor="start">Platelet</text>
<line x1="407.2" y1="351.05" x2="416.1" y2="351.05" stroke="#e49262" stroke-width="1.8"/>
<text transform="translate(420.4,352.8) scale(1,1.09)" font-size="5.45" font-weight="bold" fill="#0a0a0a" text-anchor="start">Creatinine</text>
<line x1="407.2" y1="361.95" x2="416.1" y2="361.95" stroke="#8262c2" stroke-width="1.8"/>
<text transform="translate(420.4,363.7) scale(1,1.09)" font-size="5.45" font-weight="bold" fill="#0a0a0a" text-anchor="start">INR</text>
<line x1="407.2" y1="372.55" x2="416.1" y2="372.55" stroke="#f2b264" stroke-width="1.8"/>
<text transform="translate(420.4,374.3) scale(1,1.09)" font-size="5.45" font-weight="bold" fill="#0a0a0a" text-anchor="start">ALT</text>
<line x1="465.8" y1="340.35" x2="474.7" y2="340.35" stroke="#f2d286" stroke-width="1.8"/>
<text transform="translate(479,342.1) scale(1,1.09)" font-size="5.45" font-weight="bold" fill="#0a0a0a" text-anchor="start">Calculus number</text>
<line x1="465.8" y1="351.05" x2="474.7" y2="351.05" stroke="#5a6661" stroke-width="1.8"/>
<text transform="translate(479,352.8) scale(1,1.09)" font-size="5.45" font-weight="bold" fill="#0a0a0a" text-anchor="start">Age</text>
<line x1="465.8" y1="361.95" x2="474.7" y2="361.95" stroke="#d89c12" stroke-width="1.8"/>
<text transform="translate(479,363.7) scale(1,1.09)" font-size="5.45" font-weight="bold" fill="#0a0a0a" text-anchor="start">Calculus diameter</text>
<line x1="465.8" y1="372.55" x2="474.7" y2="372.55" stroke="#92d21e" stroke-width="1.8"/>
<text transform="translate(479,374.3) scale(1,1.09)" font-size="5.45" font-weight="bold" fill="#0a0a0a" text-anchor="start">With poly</text>
<line x1="535.5" y1="340.35" x2="544.4" y2="340.35" stroke="#14c83e" stroke-width="1.8"/>
<text transform="translate(548.7,342.1) scale(1,1.09)" font-size="5.45" font-weight="bold" fill="#0a0a0a" text-anchor="start">Hepatic artery variation</text>
<line x1="535.5" y1="351.05" x2="544.4" y2="351.05" stroke="#22d2a2" stroke-width="1.8"/>
<text transform="translate(548.7,352.8) scale(1,1.09)" font-size="5.45" font-weight="bold" fill="#0a0a0a" text-anchor="start">Bile duct variation</text>
<line x1="535.5" y1="361.95" x2="544.4" y2="361.95" stroke="#1995d4" stroke-width="1.8"/>
<text transform="translate(548.7,363.7) scale(1,1.09)" font-size="5.45" font-weight="bold" fill="#0a0a0a" text-anchor="start">Bailout procedures</text>
</svg></body></html>
